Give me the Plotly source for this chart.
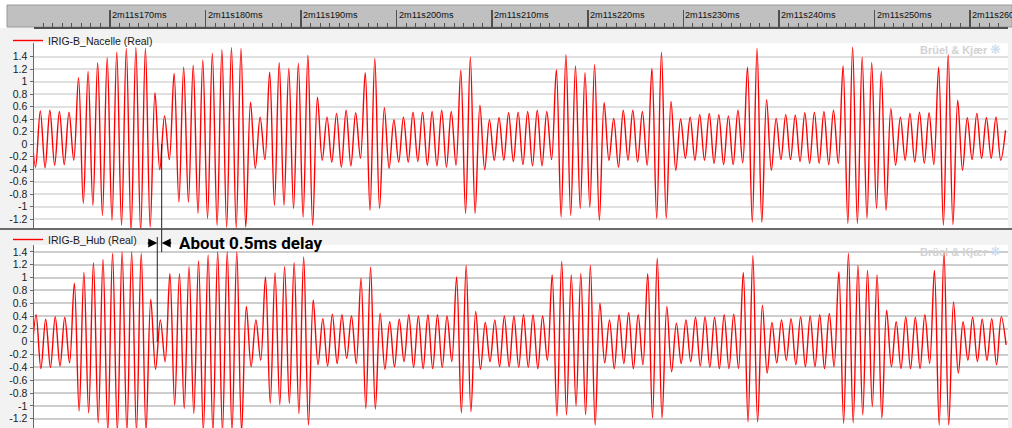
import numpy as np
import plotly.graph_objects as go

# ---------------- data ----------------
# time axis in ms after 2m11s ; carrier 1 kHz -> one peak / trough per ms
carrier_period_ms = 1.0

# IRIG-B_Nacelle: peak values (index -1 .. 101) and trough values (index -1 .. 100)
nacelle_first_peak_ms = 161.71
nacelle_first_trough_ms = 162.21
nacelle_peaks = [
    0.50,
    0.53, 0.54, 0.52, 0.51, 1.06, 1.16, 1.30, 1.38, 1.47, 1.53,
    1.54, 1.53, 0.82, 0.45, 1.13, 1.23, 1.26, 1.34, 1.45, 1.51,
    1.54, 1.53, 0.67, 0.43, 1.15, 1.30, 1.21, 1.29, 1.42, 0.75,
    0.43, 0.49, 0.54, 0.50, 1.14, 1.37, 0.58, 0.39, 0.43, 0.51,
    0.51, 0.52, 0.54, 0.52, 1.18, 1.39, 0.62, 0.39, 0.42, 0.50,
    0.51, 0.52, 0.54, 0.52, 1.19, 1.43, 1.25, 1.14, 1.27, 0.66,
    0.41, 0.54, 0.54, 0.52, 1.21, 1.47, 0.68, 0.40, 0.43, 0.47,
    0.49, 0.47, 0.45, 0.54, 1.23, 1.53, 0.71, 0.41, 0.47, 0.46,
    0.50, 0.51, 0.52, 0.54, 1.25, 1.55, 1.39, 1.30, 1.16, 0.57,
    0.43, 0.49, 0.51, 0.50, 1.23, 1.43, 0.70, 0.42, 0.49, 0.42,
    0.43, 0.22,
]
nacelle_troughs = [
    -0.37,
    -0.38, -0.34, -0.33, -0.26, -0.95, -0.98, -1.14, -1.22, -1.30, -1.40,
    -1.40, -1.33, -0.41, -0.25, -0.93, -0.93, -1.11, -1.19, -1.30, -1.33,
    -1.34, -1.33, -0.39, -0.25, -0.98, -0.98, -1.03, -1.17, -1.30, -0.26,
    -0.29, -0.37, -0.35, -0.23, -1.06, -1.03, -0.39, -0.29, -0.29, -0.28,
    -0.34, -0.35, -0.37, -0.34, -1.11, -1.11, -0.41, -0.26, -0.26, -0.28,
    -0.33, -0.35, -0.35, -0.25, -1.17, -1.14, -1.03, -1.01, -1.22, -0.26,
    -0.37, -0.26, -0.29, -0.34, -1.19, -1.19, -0.42, -0.23, -0.26, -0.26,
    -0.31, -0.33, -0.33, -0.30, -1.25, -1.25, -0.42, -0.25, -0.25, -0.28,
    -0.31, -0.31, -0.33, -0.31, -1.27, -1.27, -1.19, -1.03, -1.06, -0.34,
    -0.26, -0.29, -0.31, -0.33, -1.30, -1.29, -0.42, -0.25, -0.23, -0.23,
    -0.26,
]

# IRIG-B_Hub: peak values (index 0 .. 101) and trough values (index -1 .. 101)
hub_first_peak_ms = 162.27
hub_first_trough_ms = 161.77
hub_peaks = [
    0.42, 0.35, 0.39, 0.38, 0.91, 1.08, 1.23, 1.28, 1.38, 1.40,
    1.40, 1.38, 0.66, 0.34, 1.06, 1.06, 1.17, 1.26, 1.35, 1.40,
    1.40, 1.40, 0.55, 0.34, 1.01, 1.07, 1.17, 1.23, 1.32, 0.65,
    0.36, 0.43, 0.42, 0.40, 0.99, 1.16, 0.44, 0.31, 0.35, 0.42,
    0.40, 0.42, 0.42, 0.40, 1.01, 1.19, 0.47, 0.30, 0.34, 0.40,
    0.40, 0.42, 0.42, 0.40, 1.04, 1.25, 1.04, 1.06, 1.19, 0.60,
    0.34, 0.42, 0.45, 0.42, 1.06, 1.30, 0.55, 0.29, 0.34, 0.38,
    0.39, 0.38, 0.42, 0.43, 1.08, 1.34, 0.57, 0.30, 0.34, 0.36,
    0.39, 0.40, 0.42, 0.44, 1.09, 1.38, 1.19, 1.11, 1.04, 0.49,
    0.31, 0.39, 0.38, 0.42, 1.11, 1.40, 0.62, 0.31, 0.38, 0.35,
    0.36, 0.39,
]
hub_troughs = [
    -0.40,
    -0.42, -0.40, -0.38, -0.33, -1.08, -1.11, -1.26, -1.40, -1.40, -1.40,
    -1.40, -1.40, -0.43, -0.31, -0.99, -1.04, -1.12, -1.40, -1.40, -1.40,
    -1.40, -1.40, -0.39, -0.29, -0.96, -0.98, -0.96, -1.12, -1.30, -0.36,
    -0.38, -0.34, -0.26, -0.34, -1.04, -1.05, -0.43, -0.39, -0.31, -0.40,
    -0.42, -0.42, -0.40, -0.31, -1.11, -1.09, -0.43, -0.31, -0.39, -0.39,
    -0.40, -0.40, -0.42, -0.29, -1.16, -1.14, -1.00, -1.14, -1.30, -0.33,
    -0.42, -0.34, -0.42, -0.36, -1.19, -1.19, -0.47, -0.34, -0.31, -0.38,
    -0.40, -0.42, -0.42, -0.42, -1.25, -1.25, -0.49, -0.33, -0.29, -0.36,
    -0.39, -0.39, -0.42, -0.39, -1.27, -1.26, -1.14, -1.01, -1.19, -0.39,
    -0.42, -0.42, -0.42, -0.34, -1.30, -1.30, -0.49, -0.29, -0.31, -0.29,
    -0.36, -0.05,
]

# cursor positions (ms) used for the delay annotation
cursor_nacelle_ms = 175.41
cursor_hub_ms = 174.95

x_tick_vals = [170, 180, 190, 200, 210, 220, 230, 240, 250, 260]
x_tick_labels = ["2m11s170ms", "2m11s180ms", "2m11s190ms", "2m11s200ms", "2m11s210ms",
                 "2m11s220ms", "2m11s230ms", "2m11s240ms", "2m11s250ms", "2m11s260ms"]
y_tick_vals = [1.4, 1.2, 1.0, 0.8, 0.6, 0.4, 0.2, 0.0, -0.2, -0.4, -0.6, -0.8, -1.0, -1.2]
y_tick_labels = ["1.4", "1.2", "1", "0.8", "0.6", "0.4", "0.2", "0", "-0.2", "-0.4",
                 "-0.6", "-0.8", "-1", "-1.2"]

series_names = ["IRIG-B_Nacelle (Real)", "IRIG-B_Hub (Real)"]
x_range_ms = [162.05, 263.97]


# ---------------- build the waveforms ----------------
def waveform(first_peak, peaks, first_trough, troughs):
    tp = first_peak + carrier_period_ms * np.arange(len(peaks))
    tt = first_trough + carrier_period_ms * np.arange(len(troughs))
    t = np.concatenate([tp, tt])
    v = np.concatenate([np.array(peaks), np.array(troughs)])
    order = np.argsort(t)
    return t[order], v[order]


nx, ny = waveform(nacelle_first_peak_ms, nacelle_peaks, nacelle_first_trough_ms, nacelle_troughs)
hx, hy = waveform(hub_first_peak_ms, hub_peaks, hub_first_trough_ms, hub_troughs)

W, H = 1012, 428


def py(p):
    return 1 - p / H


def px(p):
    return p / W


FONT = "Liberation Sans, Arial, sans-serif"
RED = "#ff0000"

fig = go.Figure()
fig.add_trace(go.Scatter(x=nx, y=ny, mode="lines",
                         line=dict(color=RED, width=1.4, shape="spline", smoothing=1.0),
                         name=series_names[0], xaxis="x", yaxis="y", legend="legend"))
fig.add_trace(go.Scatter(x=hx, y=hy, mode="lines",
                         line=dict(color=RED, width=1.4, shape="spline", smoothing=1.0),
                         name=series_names[1], xaxis="x2", yaxis="y2", legend="legend2"))
# invisible trace that creates the ruler subplot
fig.add_trace(go.Scatter(x=[x_tick_vals[0]], y=[0.5], mode="markers", marker=dict(opacity=0),
                         xaxis="x3", yaxis="y3", showlegend=False, hoverinfo="skip"))

xdom = [px(34), px(1008)]
yaxis_common = dict(
    tickvals=y_tick_vals, ticktext=y_tick_labels, showgrid=True, gridwidth=2,
    zeroline=False, showline=True, linecolor="#6a6a6a", linewidth=1.5, automargin=False,
    ticks="outside", ticklen=3, tickcolor="#6a6a6a",
    tickfont=dict(size=10.5, color="#1a1a1a", family=FONT), fixedrange=True,
)
xaxis_common = dict(domain=xdom, range=x_range_ms, showticklabels=False, ticks="",
                    showgrid=False, zeroline=False, showline=False, fixedrange=True,
                    automargin=False)

fig.update_layout(
    template="none",
    width=W, height=H,
    margin=dict(l=0, r=0, t=0, b=0, pad=0),
    paper_bgcolor="#f2f2f2",
    plot_bgcolor="#ffffff",
    font=dict(family=FONT, size=10, color="#1a1a1a"),
    xaxis=dict(anchor="y", **xaxis_common),
    yaxis=dict(anchor="x", domain=[py(228), py(43)], range=[-1.344, 1.616],
               gridcolor="#e0e0e0", **yaxis_common),
    xaxis2=dict(anchor="y2", **xaxis_common),
    yaxis2=dict(anchor="x2", domain=[0, py(245)], range=[-1.345, 1.507],
                gridcolor="#cdcdcd", **yaxis_common),
    xaxis3=dict(anchor="y3", domain=xdom, range=x_range_ms, tickvals=x_tick_vals,
                showticklabels=False, ticks="inside", ticklen=17, tickwidth=1.5,
                tickcolor="#505050", showgrid=False, zeroline=False, showline=True,
                linecolor="#505050", linewidth=1.5, fixedrange=True, automargin=False,
                minor=dict(ticks="inside", ticklen=4, dtick=carrier_period_ms, tick0=0,
                           tickcolor="#505050", tickwidth=1, showgrid=False)),
    yaxis3=dict(anchor="x3", domain=[py(27), py(5)], range=[0, 1], visible=False,
                fixedrange=True, automargin=False),
    showlegend=True,
    legend=dict(x=px(8), y=py(26), xanchor="left", yanchor="top", bgcolor="rgba(0,0,0,0)",
                font=dict(size=10.5, family=FONT, color="#1a1a1a"), itemwidth=30,
                tracegroupgap=0, borderwidth=0),
    legend2=dict(x=px(8), y=py(225), xanchor="left", yanchor="top", bgcolor="rgba(0,0,0,0)",
                 font=dict(size=10.5, family=FONT, color="#1a1a1a"), itemwidth=30,
                 tracegroupgap=0, borderwidth=0),
)

shapes = []
# white strip at very top and ruler background
shapes.append(dict(type="rect", xref="paper", yref="paper", x0=0, x1=1, y0=py(5), y1=1,
                   fillcolor="#ffffff", line=dict(width=0), layer="below"))
shapes.append(dict(type="rect", xref="paper", yref="paper", x0=0, x1=px(7), y0=py(28), y1=1,
                   fillcolor="#ffffff", line=dict(width=0), layer="below"))
shapes.append(dict(type="rect", xref="paper", yref="paper", x0=px(7), x1=1, y0=py(27), y1=py(5),
                   fillcolor="#c0c0c0", line=dict(color="#9a9a9a", width=1), layer="below"))
# separator between panels
shapes.append(dict(type="line", xref="paper", yref="paper", x0=0, x1=1, y0=py(229), y1=py(229),
                   line=dict(color="#3c3c3c", width=1.5)))
# cursor lines
shapes.append(dict(type="line", xref="x", yref="y", x0=cursor_nacelle_ms, x1=cursor_nacelle_ms,
                   y0=0, y1=-1.344, line=dict(color="#202020", width=1)))
shapes.append(dict(type="line", xref="x2", yref="paper", x0=cursor_nacelle_ms, x1=cursor_nacelle_ms,
                   y0=py(229), y1=py(252), line=dict(color="#202020", width=1)))
shapes.append(dict(type="line", xref="x2", yref="paper", x0=cursor_hub_ms, x1=cursor_hub_ms,
                   y0=py(237), y1=py(342), line=dict(color="#202020", width=1)))
fig.update_layout(shapes=shapes)

annotations = []
# delay arrows
annotations.append(dict(xref="x2", yref="paper", x=cursor_hub_ms, y=py(243), ax=-11, ay=0,
                        text="", showarrow=True, arrowhead=2, arrowsize=1.2, arrowwidth=1.5,
                        arrowcolor="#000000"))
annotations.append(dict(xref="x2", yref="paper", x=cursor_nacelle_ms, y=py(243), ax=11, ay=0,
                        text="", showarrow=True, arrowhead=2, arrowsize=1.2, arrowwidth=1.5,
                        arrowcolor="#000000"))
annotations.append(dict(xref="x2", yref="paper", x=cursor_nacelle_ms, y=py(243), xshift=15,
                        xanchor="left", yanchor="middle", showarrow=False,
                        text="<b>About 0.5ms delay</b>",
                        font=dict(size=17, family="Roboto, Liberation Sans, sans-serif", color="#000000")))
# ruler labels
for v, lab in zip(x_tick_vals, x_tick_labels):
    annotations.append(dict(xref="x3", yref="paper", x=v, y=py(15), xanchor="left", yanchor="middle",
                            xshift=0, showarrow=False, text=lab,
                            font=dict(size=9.2, family=FONT, color="#101010")))
# watermarks
for ywm in (py(50), py(252)):
    annotations.append(dict(xref="paper", yref="paper", x=px(990), y=ywm, xanchor="right",
                            yanchor="middle", showarrow=False, text="<b>Brüel & Kjær</b>",
                            font=dict(size=11, family=FONT, color="#d2d2d2")))
    annotations.append(dict(xref="paper", yref="paper", x=px(995), y=ywm, xanchor="center",
                            yanchor="middle", showarrow=False, text="❋",
                            font=dict(size=13, family="DejaVu Sans", color="#c8dcf2")))
fig.update_layout(annotations=annotations)

fig.write_html(
    "out.html",
    config={"displayModeBar": False, "staticPlot": True},
    post_script="document.body.style.margin='0';document.body.style.padding='0';"
                "document.body.style.overflow='hidden';",
)
